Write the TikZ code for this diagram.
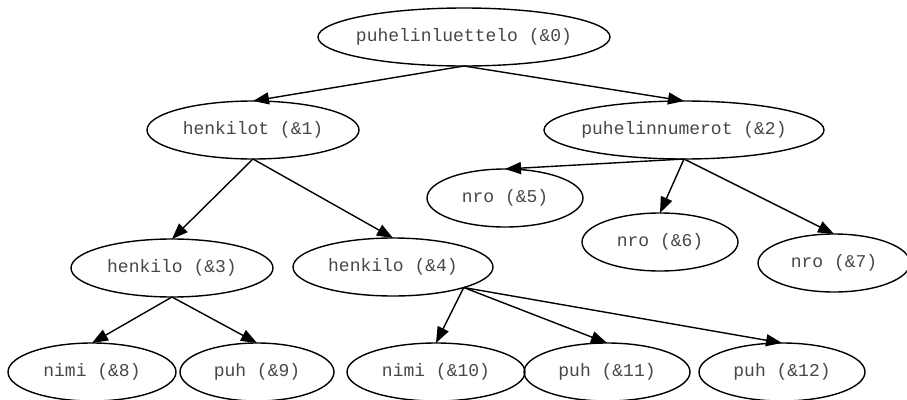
\documentclass[tikz,border=0pt]{standalone}
\usepackage{fontspec}
\setmonofont{Liberation Mono}
\usetikzlibrary{arrows.meta,shapes.geometric}
\tikzset{
  el/.style={ellipse, draw=black, line width=1.4pt, inner sep=0pt, outer sep=0pt,
    font=\ttfamily\fontsize{18}{20}\selectfont, text=black!72},
  edge/.style={line width=1.4pt, draw=black, -{Triangle[length=16pt,width=12pt]}}
}
\newcommand{\lbl}[1]{\makebox[0pt]{#1}}
\begin{document}
\begin{tikzpicture}[x=1pt,y=-1pt]
\path[use as bounding box] (0,0) rectangle (907,399);
\node[el, minimum width=292pt, minimum height=58pt] (n0) at (464,37) {\lbl{puhelinluettelo (\&0)}};
\node[el, minimum width=212pt, minimum height=58pt] (n1) at (253,130) {\lbl{henkilot (\&1)}};
\node[el, minimum width=280pt, minimum height=58pt] (n2) at (684,130) {\lbl{puhelinnumerot (\&2)}};
\node[el, minimum width=202pt, minimum height=58pt] (n3) at (172,268) {\lbl{henkilo (\&3)}};
\node[el, minimum width=200pt, minimum height=58pt] (n4) at (393,267) {\lbl{henkilo (\&4)}};
\node[el, minimum width=156pt, minimum height=58pt] (n5) at (505,198) {\lbl{nro (\&5)}};
\node[el, minimum width=156pt, minimum height=58pt] (n6) at (660,242) {\lbl{nro (\&6)}};
\node[el, minimum width=152pt, minimum height=58pt] (n7) at (834,263) {\lbl{nro (\&7)}};
\node[el, minimum width=168pt, minimum height=58pt] (n8) at (92,372) {\lbl{nimi (\&8)}};
\node[el, minimum width=154pt, minimum height=58pt] (n9) at (257,372) {\lbl{puh (\&9)}};
\node[el, minimum width=178pt, minimum height=58pt] (n10) at (436,372) {\lbl{nimi (\&10)}};
\node[el, minimum width=166pt, minimum height=58pt] (n11) at (607,372) {\lbl{puh (\&11)}};
\node[el, minimum width=166pt, minimum height=58pt] (n12) at (782,372) {\lbl{puh (\&12)}};
\draw[edge] (n0.south) -- (n1.north);
\draw[edge] (n0.south) -- (n2.north);
\draw[edge] (n1.south) -- (n3.north);
\draw[edge] (n1.south) -- (n4.north);
\draw[edge] (n2.south) -- (n5.north);
\draw[edge] (n2.south) -- (n6.north);
\draw[edge] (n2.south) -- (n7.north);
\draw[edge] (n3.south) -- (n8.north);
\draw[edge] (n3.south) -- (n9.north);
\draw[edge] (n4.south east) -- (n10.north);
\draw[edge] (n4.south east) -- (n11.north);
\draw[edge] (n4.south east) -- (n12.north);
\end{tikzpicture}
\end{document}
